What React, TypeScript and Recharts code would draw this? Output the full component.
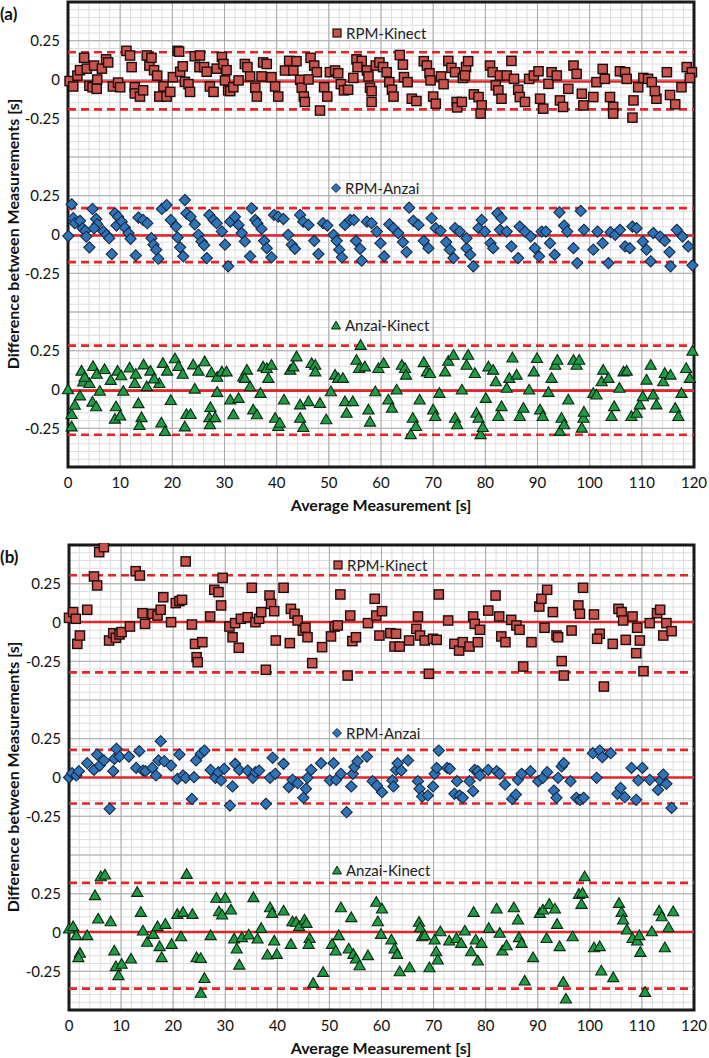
import React from 'react';
import { ScatterChart, Scatter, XAxis, YAxis, CartesianGrid, ReferenceLine, ReferenceArea } from 'recharts';

const FONT = 'Lato, "Open Sans", sans-serif';

type P = [number, number];

// ---------- tick / label lists ----------
const xTicks = [0, 10, 20, 30, 40, 50, 60, 70, 80, 90, 100, 110, 120];
const groupNames = ['RPM-Kinect', 'RPM-Anzai', 'Anzai-Kinect'];
const groupOffsets = [0, -1, -2];
const yTicks = [0.25, 0, -0.25, -0.75, -1, -1.25, -1.75, -2, -2.25];
const xTitle = 'Average Measurement [s]';
const yTitle = 'Difference between Measurements [s]';

// ---------- panel (a) ----------
const aRpmKinect: P[] = [
  [0.3,-0.01],[1.0,-0.045],[1.8,0.025],[2.3,0.06],[3.1,0.14],[3.6,0.07],[4.1,-0.04],[4.7,-0.05],[5.0,0.09],[5.6,0.0],[5.5,-0.06],[6.5,0.07],[7.3,0.13],[7.7,0.11],[8.6,-0.045],[9.6,-0.02],[10.0,-0.05],
  [11.2,0.185],[11.9,0.155],[12.2,0.08],[12.8,-0.05],[12.8,-0.09],[13.8,-0.11],[14.4,-0.07],[15.1,0.155],[15.6,0.09],[16.0,0.14],[16.5,0.06],[17.1,0.025],[17.5,-0.11],[18.3,-0.045],[18.9,-0.11],[19.6,-0.08],[20.1,0.015],
  [21.0,0.185],[21.3,0.18],[21.5,0.05],[22.0,0.085],[22.4,-0.015],[23.1,-0.03],[23.4,-0.08],[24.3,0.15],[25.2,0.08],[25.3,0.155],[26.1,0.08],[26.6,0.05],[27.2,-0.045],[27.9,-0.08],[28.5,0.07],[29.5,0.145],[29.8,0.1],
  [30.4,0.06],[30.1,-0.006],[30.7,-0.07],[31.1,-0.075],[31.7,-0.05],[32.7,-0.006],[33.9,0.1],[34.4,0.08],[34.9,0.02],[35.9,-0.053],[36.2,-0.11],[37.4,0.11],[38.1,0.1],[37.1,0.02],[39.0,0.015],[39.7,-0.045],[40.3,-0.11],
  [41.6,0.058],[42.4,0.12],[43.2,0.058],[43.8,0.118],[44.5,-0.002],[44.8,-0.053],[45.2,-0.11],[45.4,-0.145],[46.5,0.14],[47.2,0.09],[47.7,0.047],[46.1,0.0],[48.3,-0.2],[49.1,-0.05],[49.7,-0.11],
  [50.2,0.047],[51.2,0.058],[51.8,0.04],[52.3,-0.03],[52.9,-0.07],[53.7,-0.066],[54.7,0.01],[55.3,0.13],[56.3,0.12],[55.5,0.08],[57.3,0.058],[57.6,0.02],[57.9,-0.053],[58.2,-0.075],[58.2,-0.145],[59.0,0.09],[59.7,0.11],
  [60.4,0.08],[61.1,0.047],[61.6,-0.017],[62.1,-0.066],[62.4,-0.11],[63.6,0.158],[64.2,0.096],[64.4,0.015],[65.1,-0.017],[65.9,-0.124],[66.8,-0.139],[68.2,0.118],[68.8,0.09],[69.3,0.04],[69.5,-0.006],[70.0,-0.11],[70.5,-0.156],
  [71.5,0.02],[72.0,-0.03],[72.9,0.12],[73.5,0.075],[74.2,0.047],[74.5,-0.145],[74.6,-0.18],[75.7,0.01],[76.3,0.08],[76.7,0.118],[76.1,0.026],[75.5,-0.145],
  [77.8,-0.096],[78.7,-0.113],[79.3,-0.167],[79.1,-0.22],[80.9,0.09],[81.4,0.047],[82.0,-0.038],[82.5,-0.07],[83.1,-0.124],[82.8,0.026],[84.1,0.026],[85.0,0.12],[85.5,0.004],[86.3,-0.066],[86.6,-0.113],[87.6,-0.145],
  [88.4,0.004],[89.3,0.026],[90.2,0.053],[90.5,-0.124],[91.1,-0.188],[92.1,-0.028],[92.7,0.047],[93.7,0.026],[94.3,-0.135],[94.9,-0.177],[95.9,-0.06],[96.9,0.09],[97.5,0.036],[98.5,-0.092],[98.8,-0.167],
  [100.7,-0.113],[101.3,-0.017],[102.5,0.068],[102.9,0.004],[103.9,-0.113],[104.5,-0.177],[104.5,-0.22],[105.8,0.053],[106.8,0.047],[107.1,0.004],[108.4,-0.135],[108.2,-0.246],[109.3,-0.05],
  [110.3,0.01],[111.2,0.004],[111.9,-0.017],[112.8,-0.124],[112.5,-0.075],[114.8,0.047],[115.4,-0.1],[116.4,-0.16],[117.6,-0.05],[118.6,0.08],[119.6,0.047],[119.2,0.01],
];

const aRpmAnzai: P[] = [
  [0.7,0.195],[0.06,-0.01],[1.0,0.105],[1.3,0.073],[2.3,0.088],[2.8,0.04],[3.3,0.024],[3.5,-0.013],[4.1,-0.083],[4.7,0.165],[5.4,0.1],[5.6,0.066],[5.0,0.04],[6.8,0.02],[7.4,-0.002],[7.9,-0.024],[8.4,-0.126],
  [9.0,0.137],[9.6,0.115],[9.3,0.058],[10.3,0.083],[10.9,0.045],[11.6,0.009],[12.0,-0.028],[13.0,-0.135],[13.5,0.109],[14.4,0.094],[15.2,0.073],[16.0,-0.024],[16.4,-0.066],[16.9,-0.098],[17.3,-0.156],
  [18.0,0.165],[18.9,0.19],[19.7,0.094],[20.7,0.051],[21.0,-0.019],[21.5,-0.083],[22.1,-0.141],[22.4,0.222],[22.7,0.137],[23.5,0.115],[24.3,0.066],[25.0,-0.002],[25.6,-0.045],[26.1,-0.07],[26.6,-0.152],
  [27.1,0.126],[27.9,0.094],[28.5,0.073],[29.5,0.02],[30.1,-0.066],[30.7,-0.205],[31.1,0.083],[32.0,0.115],[32.7,0.062],[33.3,0.009],[33.9,-0.045],[34.9,-0.141],[35.2,0.169],[35.9,0.094],[36.3,0.073],
  [37.1,0.036],[37.6,-0.041],[38.1,-0.088],[39.0,-0.147],[39.5,0.126],[40.3,0.115],[41.3,0.1],[42.2,-0.002],[42.9,-0.066],[43.5,-0.092],[44.5,0.126],[45.1,0.083],[46.1,0.062],[47.2,-0.041],[48.0,-0.126],
  [48.9,0.073],[49.7,0.058],[50.9,-0.002],[51.5,-0.041],[52.0,-0.098],[52.5,-0.147],[53.1,0.062],[54.1,0.094],[54.8,0.094],[55.2,-0.041],[56.0,-0.092],[56.3,-0.169],[57.3,0.083],[58.2,0.073],[59.2,0.019],
  [59.9,-0.056],[60.6,-0.141],[61.6,0.066],[62.4,0.041],[63.3,0.009],[64.2,-0.049],[64.9,-0.113],[65.4,0.173],[66.2,0.088],[67.2,0.062],[68.2,-0.041],[69.1,-0.088],[69.7,0.105],[70.5,0.041],[71.4,0.024],
  [72.5,-0.049],[73.2,-0.098],[73.9,-0.152],[74.2,0.041],[75.1,0.019],[76.4,-0.088],[76.4,-0.024],[77.1,-0.13],[77.7,-0.205],[78.7,0.041],[79.3,0.094],[79.9,0.019],[81.0,-0.056],[81.5,-0.088],
  [82.3,0.137],[83.1,0.105],[82.8,0.03],[84.1,0.019],[85.0,-0.077],[86.3,-0.152],[86.6,0.051],[87.6,0.019],[88.7,-0.013],[89.5,-0.088],[90.3,-0.141],[90.8,0.019],[91.6,0.019],[92.4,-0.056],[93.3,-0.13],
  [94.2,0.143],[95.1,0.058],[95.7,0.019],[96.9,-0.088],[97.6,-0.184],[98.3,0.152],[98.9,0.03],[100.7,-0.098],[101.5,0.019],[102.5,-0.056],[103.6,-0.184],[104.0,0.015],[104.9,-0.002],[105.8,0.03],
  [106.8,-0.077],[107.7,-0.088],[108.2,0.051],[109.0,0.041],[110.2,-0.045],[110.9,-0.098],[111.7,-0.173],[112.2,0.009],[113.5,-0.013],[114.4,-0.041],[115.3,-0.113],[115.5,-0.205],[116.7,0.03],
  [117.8,-0.013],[118.9,-0.077],[119.7,-0.199],
];

const aAnzaiKinect: P[] = [
  [0.0,0.0],[0.7,-0.16],[0.7,-0.24],[1.3,-0.1],[2.3,-0.04],[2.9,0.05],[4.1,0.04],[4.7,-0.08],[5.4,-0.11],[6.1,-0.01],[9.2,-0.11],[9.0,-0.19],[10.0,-0.17],[10.6,-0.01],[12.8,0.04],[13.5,-0.09],
  [14.1,-0.18],[13.7,-0.23],[15.1,0.02],[17.5,0.04],[17.9,-0.215],[18.6,-0.27],[19.7,-0.07],[22.4,-0.24],[22.7,-0.16],[23.5,-0.16],[24.3,0.004],[27.3,-0.115],[27.1,-0.18],[27.2,-0.225],[28.2,-0.18],[28.6,-0.017],
  [2.6,0.12],[3.2,0.08],[4.8,0.15],[5.5,0.1],[7.0,0.13],[8.2,0.06],[9.5,0.12],[10.2,0.09],[11.8,0.14],[13.0,0.1],[14.5,0.16],[15.8,0.12],[16.5,0.07],[18.2,0.17],[19.0,0.12],[20.5,0.2],[21.2,0.15],
  [22.0,0.1],[24.0,0.16],[25.0,0.12],[26.2,0.18],[27.5,0.11],[28.6,0.08],
  [29.5,0.115],[30.4,0.115],[31.1,-0.066],[31.7,-0.162],[32.7,-0.056],[33.6,0.083],[34.3,0.126],[33.9,0.073],[34.9,0.019],[35.5,-0.13],[36.2,-0.162],[36.9,-0.024],[37.4,0.147],[38.1,0.137],[38.4,0.073],
  [39.0,0.158],[39.7,-0.184],[40.3,-0.237],[40.6,-0.216],[41.4,-0.066],[42.6,0.126],[43.2,0.147],[43.8,0.212],[44.5,-0.098],[44.5,-0.184],[45.1,-0.244],[46.1,-0.077],[46.7,0.169],[47.4,0.158],[47.4,0.115],
  [48.3,-0.088],[49.5,-0.194],[50.4,-0.013],[51.2,0.094],[51.8,0.073],[52.7,0.073],[53.1,-0.077],[53.4,-0.152],[54.6,-0.077],[55.3,0.19],[56.1,0.286],[55.8,0.137],[56.9,0.147],[57.6,-0.13],[57.9,-0.209],
  [58.9,-0.013],[59.5,0.137],[60.5,0.169],[61.4,-0.066],[62.1,-0.12],[63.0,-0.002],[64.0,0.158],[64.6,0.137],[64.8,0.094],[65.7,-0.29],[66.1,-0.184],[66.7,-0.237],[67.4,-0.066],[68.2,0.175],[68.8,0.115],
  [69.4,0.105],[70.0,-0.13],[70.4,-0.173],[71.2,-0.024],[72.3,0.115],[72.9,0.184],[73.9,0.222],[74.2,-0.184],[74.6,-0.226],[75.5,-0.002],[76.7,0.222],[76.4,0.158],[78.0,0.105],[78.3,-0.152],[78.7,-0.184],
  [79.1,-0.29],[79.5,-0.244],[80.1,-0.056],[80.6,0.147],[81.5,0.126],[82.0,0.051],[82.5,-0.173],[83.1,-0.109],[84.1,0.009],[84.6,0.073],[85.2,0.205],[86.0,0.094],[86.6,-0.173],[87.3,-0.12],[88.4,-0.002],
  [89.3,0.115],[89.9,0.201],[90.5,-0.13],[91.0,-0.173],[92.1,-0.017],[92.7,0.073],[93.4,0.158],[93.8,0.19],[94.6,-0.184],[94.3,-0.269],[95.1,-0.226],[95.9,-0.066],[96.9,0.19],[97.5,0.158],[98.0,0.19],
  [98.5,-0.248],[98.8,-0.184],[98.9,-0.145],[100.7,-0.024],[101.3,-0.034],[102.3,0.051],[102.6,0.126],[103.6,0.073],[104.2,-0.173],[104.7,-0.109],[105.7,0.009],[106.5,0.115],[107.1,0.12],[108.0,-0.173],
  [109.0,-0.152],[109.6,-0.098],[110.2,-0.045],[110.9,0.062],[111.7,0.158],[112.2,-0.034],[112.8,-0.098],[114.1,0.051],[114.4,0.105],[115.5,0.094],[116.4,-0.12],[117.0,-0.173],[117.6,-0.024],[118.5,0.137],
  [119.2,0.073],[119.7,0.248],
];

// limits of agreement: [upper, mean, lower]
const aRpmKinectLines = [0.176, -0.013, -0.193];
const aRpmAnzaiLines = [0.17, -0.006, -0.178];
const aAnzaiKinectLines = [0.283, -0.007, -0.292];

// ---------- panel (b) ----------
const bRpmKinect: P[] = [
  [0.0,0.03],[0.8,0.067],[1.3,0.024],[1.6,-0.138],[2.1,-0.084],[3.5,0.082],[4.8,0.297],[5.4,0.239],[5.8,0.454],[6.7,0.486],[7.7,-0.116],[8.5,-0.069],[9.0,-0.099],[9.7,-0.077],[10.1,-0.062],[11.7,-0.026],
  [12.8,0.331],[13.6,0.303],[14.1,0.06],[14.6,-0.009],[16.0,0.056],[17.0,0.045],[17.6,0.082],[18.1,0.163],[19.6,0.002],[20.5,0.125],[21.2,0.138],[21.7,0.146],[22.4,0.394],[23.6,-0.013],[24.2,-0.138],
  [24.5,-0.224],[24.7,-0.256],[25.6,-0.127],[27.1,0.039],[27.9,0.211],[28.7,0.196],[29.2,0.11],[29.5,0.288],[30.8,-0.026],[31.4,-0.095],[31.9,-0.004],[32.6,-0.163],[33.0,0.024],[34.3,0.034],[35.1,0.224],
  [35.8,0.002],[36.5,0.024],[36.9,0.067],[37.8,-0.305],[38.5,0.174],[38.8,0.12],[39.4,0.073],[39.7,-0.116],[41.2,0.224],[42.4,-0.133],[42.6,0.088],[43.3,0.056],[43.9,0.013],[44.9,-0.052],[45.4,-0.034],
  [45.8,-0.095],[46.7,-0.262],[48.6,-0.159],[50.3,-0.09],[51.0,-0.026],[51.6,-0.019],[52.1,0.181],[53.5,-0.342],[54.0,0.045],[54.4,-0.12],[55.1,-0.095],[57.4,-0.004],[58.7,0.153],[59.0,0.045],[59.6,-0.084],
  [60.1,0.073],[61.7,-0.069],[62.8,-0.073],[62.5,-0.155],[63.5,-0.155],[65.3,-0.116],[66.7,-0.041],[67.0,0.039],[67.4,-0.084],[68.3,-0.116],[69.1,-0.331],[69.9,-0.105],[70.6,-0.112],[71.0,0.181],[72.8,0.013],
  [74.0,-0.138],[74.9,-0.181],[75.6,-0.127],[76.9,-0.155],[77.6,0.039],[77.9,-0.009],[78.5,-0.127],[78.9,-0.047],[80.5,0.077],[81.9,0.174],[82.6,0.039],[83.0,-0.09],[83.8,-0.127],[84.9,0.017],[85.9,-0.019],
  [86.5,-0.047],[87.2,-0.284],[88.8,-0.127],[90.3,0.103],[90.7,0.153],[91.8,0.211],[91.3,-0.034],[92.9,0.067],[93.6,-0.084],[93.9,-0.095],[94.6,-0.249],[95.0,-0.342],[96.5,-0.052],[97.8,0.11],[98.1,0.056],
  [98.7,0.224],[100.8,0.052],[101.9,-0.073],[101.4,-0.105],[102.7,-0.413],[104.4,-0.138],[105.5,0.088],[106.1,0.067],[106.4,0.013],[106.9,-0.112],[108.2,0.039],[109.1,-0.034],[108.9,-0.198],[109.6,-0.116],
  [110.3,-0.314],[111.5,-0.004],[112.9,0.06],[113.5,0.082],[114.7,-0.004],[114.1,-0.084],[115.7,-0.056],
];

const bRpmAnzai: P[] = [
  [0.0,0.0],[0.6,0.028],[1.4,0.013],[1.9,0.041],[3.5,0.092],[4.8,0.049],[5.4,0.148],[5.9,0.077],[6.7,0.11],[7.8,-0.202],[8.5,0.041],[8.7,0.12],[9.1,0.185],[9.7,0.135],[11.5,0.135],[12.9,0.062],[13.5,0.17],
  [14.2,0.045],[14.7,0.041],[16.0,0.062],[16.7,0.013],[17.2,0.11],[17.6,0.234],[18.3,0.105],[19.6,0.077],[20.8,-0.009],[21.2,0.148],[21.9,0.013],[22.4,-0.002],[23.6,-0.138],[24.0,0.002],[24.4,0.11],
  [25.3,0.153],[26.0,0.174],[27.2,0.049],[28.1,-0.002],[28.7,0.034],[29.2,-0.019],[29.8,0.056],[30.9,-0.181],[31.4,-0.058],[31.9,0.088],[32.7,0.049],[34.3,0.045],[35.3,-0.002],[35.8,0.034],[36.5,0.045],
  [37.8,-0.17],[38.6,-0.002],[39.1,0.127],[39.6,0.024],[41.2,0.088],[42.2,-0.062],[42.9,-0.015],[43.9,-0.037],[45.0,-0.131],[45.5,-0.073],[45.8,-0.002],[46.5,0.049],[48.4,0.092],[50.1,-0.019],[50.8,0.092],
  [51.3,-0.015],[52.2,0.024],[53.3,-0.224],[54.2,-0.058],[54.5,0.024],[54.8,0.067],[55.4,0.105],[57.2,0.135],[58.3,-0.024],[59.1,-0.052],[60.1,-0.095],[62.1,-0.019],[62.3,-0.058],[62.8,0.049],[63.1,0.092],
  [63.8,0.045],[65.1,0.11],[67.0,-0.024],[67.3,-0.073],[67.8,-0.123],[68.9,-0.116],[69.9,-0.058],[70.2,0.024],[70.6,0.062],[71.0,0.174],[72.6,0.062],[73.1,0.056],[74.0,-0.105],[74.5,-0.024],[75.0,-0.116],
  [75.6,-0.131],[76.9,-0.024],[77.6,-0.088],[77.9,0.049],[78.5,0.041],[78.9,0.013],[80.5,0.049],[82.1,0.041],[82.7,0.024],[83.7,-0.045],[85.1,-0.138],[85.8,-0.11],[86.2,-0.015],[86.9,0.024],[88.6,0.041],
  [90.1,-0.024],[91.0,-0.002],[91.8,0.034],[93.1,-0.084],[93.6,-0.131],[93.9,-0.002],[94.6,0.071],[95.0,0.092],[96.3,-0.024],[97.4,-0.131],[98.1,-0.144],[98.8,-0.131],[100.6,0.157],[101.9,0.174],
  [102.4,0.131],[104.0,0.157],[101.3,-0.002],[105.3,-0.105],[105.9,-0.067],[106.7,-0.127],[108.0,0.062],[108.9,-0.144],[109.3,-0.019],[110.1,0.062],[111.5,-0.015],[113.1,-0.08],[113.6,-0.019],
  [114.1,0.019],[114.7,-0.041],[115.7,-0.196],
];

const bAnzaiKinect: P[] = [
  [0.0,0.024],[0.8,0.039],[1.4,-0.019],[2.1,-0.133],[1.8,-0.161],[3.5,-0.019],[5.0,0.239],[5.6,0.088],[6.1,0.361],[6.9,0.372],[8.0,0.071],[8.7,-0.118],[9.0,-0.219],[9.5,-0.277],[10.1,-0.204],[11.9,-0.17],
  [13.1,0.26],[13.8,0.131],[14.2,0.011],[15.0,-0.062],[16.2,-0.011],[17.0,0.039],[17.4,-0.09],[17.8,-0.161],[18.5,0.054],[19.7,-0.075],[20.8,0.118],[21.5,-0.026],[21.9,0.131],[22.6,0.376],[23.7,0.118],
  [24.5,-0.161],[25.3,-0.166],[26.0,-0.295],[25.3,-0.391],[27.2,-0.019],[28.3,0.222],[30.0,0.222],[28.8,0.135],[29.4,0.114],[31.1,0.146],[31.7,-0.041],[32.2,-0.105],[32.7,-0.209],[33.2,-0.032],[34.5,-0.015],
  [35.4,0.226],[36.2,-0.041],[36.9,0.028],[38.1,-0.144],[38.6,0.161],[39.0,0.125],[39.4,-0.054],[39.9,-0.14],[41.2,0.14],[42.6,-0.075],[42.9,0.071],[43.6,0.067],[44.2,0.039],[45.2,0.082],[45.6,0.06],
  [46.2,-0.037],[46.0,-0.075],[46.9,-0.327],[48.8,-0.256],[50.5,-0.075],[51.2,-0.118],[51.8,-0.019],[52.2,0.161],[53.7,-0.105],[54.2,0.097],[54.6,-0.14],[55.1,-0.17],[55.8,-0.213],[57.4,-0.148],[59.0,0.196],
  [59.3,0.071],[60.1,0.153],[59.9,-0.011],[61.9,-0.047],[62.5,-0.105],[63.0,-0.14],[63.5,-0.252],[65.4,-0.226],[67.2,0.067],[67.4,0.032],[67.8,-0.026],[68.3,-0.019],[69.2,-0.226],[70.2,-0.047],[70.5,-0.123],
  [70.8,-0.176],[71.3,0.006],[73.0,-0.054],[74.4,-0.037],[75.3,-0.069],[76.0,0.011],[77.2,-0.123],[77.7,0.131],[78.1,-0.047],[78.5,-0.183],[79.2,-0.069],[80.6,0.028],[82.1,0.153],[82.7,-0.004],[83.2,-0.118],
  [84.0,-0.084],[85.4,0.161],[86.2,0.082],[86.4,-0.032],[86.9,-0.069],[87.5,-0.312],[89.1,-0.161],[90.4,0.125],[91.0,0.146],[92.2,0.183],[93.3,0.153],[93.7,0.054],[91.7,-0.037],[94.2,-0.09],[94.9,-0.32],
  [95.4,-0.428],[96.7,-0.026],[97.9,0.247],[98.6,0.254],[98.4,0.183],[99.0,0.361],[100.8,-0.097],[101.9,-0.09],[102.2,-0.247],[104.5,-0.29],[105.6,0.189],[106.1,0.131],[106.4,0.082],[107.1,0.017],
  [108.2,-0.037],[109.1,-0.054],[109.5,-0.019],[109.7,-0.127],[110.6,-0.385],[111.9,0.006],[113.3,0.14],[113.8,0.103],[114.4,-0.097],[115.1,0.032],[116.0,0.135],
];

const bRpmKinectLines = [0.305, 0.003, -0.322];
const bRpmAnzaiLines = [0.178, 0.0, -0.168];
const bAnzaiKinectLines = [0.32, 0.003, -0.362];

// ---------- grid values ----------
const minorX: number[] = [];
for (let v = 0; v <= 120; v += 2) minorX.push(v);
const majorX = xTicks;
const minorY: number[] = [];
for (let k = -50; k <= 10; k++) minorY.push(Math.round(k * 5) / 100);
const majorY: number[] = [];
for (let k = -10; k <= 2; k++) majorY.push(k * 0.25);

// ---------- styles ----------
const RED = '#e3262b';
const colors = {
  square: { fill: '#c9544e', stroke: '#1e0c0b' },
  diamond: { fill: '#2f74b8', stroke: '#162a44' },
  triangle: { fill: '#1f9c44', stroke: '#0a2a12' },
};

const Square = (props: any) => {
  const { cx, cy } = props;
  if (cx == null || cy == null) return null;
  return <rect x={cx - 4.6} y={cy - 4.6} width={9.2} height={9.2} fill={colors.square.fill} stroke={colors.square.stroke} strokeWidth={1.4} />;
};
const Diamond = (props: any) => {
  const { cx, cy } = props;
  if (cx == null || cy == null) return null;
  const r = 5.6;
  return <polygon points={`${cx},${cy - r} ${cx + r},${cy} ${cx},${cy + r} ${cx - r},${cy}`} fill={colors.diamond.fill} stroke={colors.diamond.stroke} strokeWidth={1.1} />;
};
const Triangle = (props: any) => {
  const { cx, cy } = props;
  if (cx == null || cy == null) return null;
  return <polygon points={`${cx},${cy - 5.5} ${cx + 5.6},${cy + 4.2} ${cx - 5.6},${cy + 4.2}`} fill={colors.triangle.fill} stroke={colors.triangle.stroke} strokeWidth={1.1} />;
};
const shapes = [Square, Diamond, Triangle];
const shapeKeys: ('square' | 'diamond' | 'triangle')[] = ['square', 'diamond', 'triangle'];

const fmtY = (val: number) => {
  const o = Math.round(val);
  const rel = Math.round((val - o) * 100) / 100;
  if (rel === 0.25) return '0.25';
  if (rel === -0.25) return '-0.25';
  if (rel === 0) return '0';
  return '';
};

const LegendMark = ({ kind }: { kind: number }) => {
  const k = shapeKeys[kind];
  const c = colors[k];
  return (
    <svg width={10} height={10} style={{ position: 'absolute', left: -5, top: -5, overflow: 'visible' }}>
      {kind === 0 && <rect x={1} y={1} width={8} height={8} fill={c.fill} stroke={c.stroke} strokeWidth={1.2} />}
      {kind === 1 && <polygon points="5,0.5 9.5,5 5,9.5 0.5,5" fill={c.fill} stroke={c.stroke} strokeWidth={1} />}
      {kind === 2 && <polygon points="5,1 9.5,9 0.5,9" fill={c.fill} stroke={c.stroke} strokeWidth={1} />}
    </svg>
  );
};

type PanelProps = {
  top: number;
  marginLeft: number;
  tag: string;
  series: P[][];
  lines: number[][];
  legend: [number, number][];
};

const Panel = ({ top, marginLeft, tag, series, lines, legend }: PanelProps) => {
  const tables = series.map((s, i) => s.map(([x, v]) => ({ x, y: v + groupOffsets[i] })));
  return (
    <div style={{ position: 'absolute', left: 0, top, width: 709, height: 515 }}>
      <ScatterChart width={709} height={500} margin={{ top: 2, right: 15, left: marginLeft, bottom: 0 }}>
        <CartesianGrid stroke="#dedede" strokeWidth={1} horizontalValues={minorY} verticalValues={minorX} />
        <CartesianGrid stroke="#a9a9a9" strokeWidth={1} horizontalValues={majorY} verticalValues={majorX} />
        <XAxis
          type="number"
          dataKey="x"
          domain={[0, 120]}
          ticks={xTicks}
          interval={0}
          height={33}
          axisLine={false}
          tickLine={false}
          tickSize={8}
          tickMargin={2}
          tick={{ fontFamily: FONT, fontSize: 15, fill: '#111' }}
        />
        <YAxis
          type="number"
          dataKey="y"
          domain={[-2.5, 0.5]}
          ticks={yTicks}
          interval={0}
          width={60}
          axisLine={false}
          tickLine={false}
          tickSize={6}
          tickMargin={2}
          tickFormatter={fmtY}
          tick={{ fontFamily: FONT, fontSize: 15, fill: '#111' }}
        />
        {lines.map((ls, g) =>
          ls.map((v, j) => (
            <ReferenceLine
              key={`l${g}-${j}`}
              y={v + groupOffsets[g]}
              stroke={RED}
              strokeWidth={2.6}
              strokeDasharray={j === 1 ? undefined : '8 5'}
            />
          ))
        )}
        <ReferenceArea x1={0} x2={120} y1={-2.5} y2={0.5} fill="none" fillOpacity={0} stroke="#1a1a1a" strokeWidth={3} />
        {tables.map((t, i) => (
          <Scatter key={groupNames[i]} name={groupNames[i]} data={t} shape={shapes[i]} isAnimationActive={false} />
        ))}
      </ScatterChart>
      {legend.map(([lx, ly], i) => (
        <div key={`lg${i}`} style={{ position: 'absolute', left: lx, top: ly, width: 0, height: 0 }}>
          <LegendMark kind={i} />
          <div style={{ position: 'absolute', left: 9, top: -10, fontFamily: FONT, fontSize: 15, lineHeight: '20px', color: '#222', whiteSpace: 'nowrap' }}>
            {groupNames[i]}
          </div>
        </div>
      ))}
      <div style={{ position: 'absolute', left: 0, top: 3, fontFamily: FONT, fontSize: 17, fontWeight: 700, lineHeight: '22px', color: '#111' }}>{tag}</div>
      <div style={{ position: 'absolute', left: 381, top: 494, transform: 'translateX(-50%)', fontFamily: FONT, fontSize: 16, fontWeight: 700, lineHeight: '22px', color: '#111', whiteSpace: 'nowrap' }}>
        {xTitle}
      </div>
      <div style={{ position: 'absolute', left: 13, top: 234, width: 0, height: 0 }}>
        <div style={{ position: 'absolute', left: 0, top: 0, transform: 'translate(-50%, -50%) rotate(-90deg)', fontFamily: FONT, fontSize: 16, fontWeight: 700, lineHeight: '20px', color: '#111', whiteSpace: 'nowrap' }}>
          {yTitle}
        </div>
      </div>
    </div>
  );
};

export default function App() {
  return (
    <div style={{ position: 'absolute', left: 0, top: 0, width: 709, height: 1058, background: '#fff', overflow: 'hidden' }}>
      <Panel
        top={0}
        marginLeft={8}
        tag="(a)"
        series={[aRpmKinect, aRpmAnzai, aAnzaiKinect]}
        lines={[aRpmKinectLines, aRpmAnzaiLines, aAnzaiKinectLines]}
        legend={[[337, 33], [336, 188], [336, 325]]}
      />
      <Panel
        top={543}
        marginLeft={9}
        tag="(b)"
        series={[bRpmKinect, bRpmAnzai, bAnzaiKinect]}
        lines={[bRpmKinectLines, bRpmAnzaiLines, bAnzaiKinectLines]}
        legend={[[338, 22], [337, 190], [337, 327]]}
      />
    </div>
  );
}
